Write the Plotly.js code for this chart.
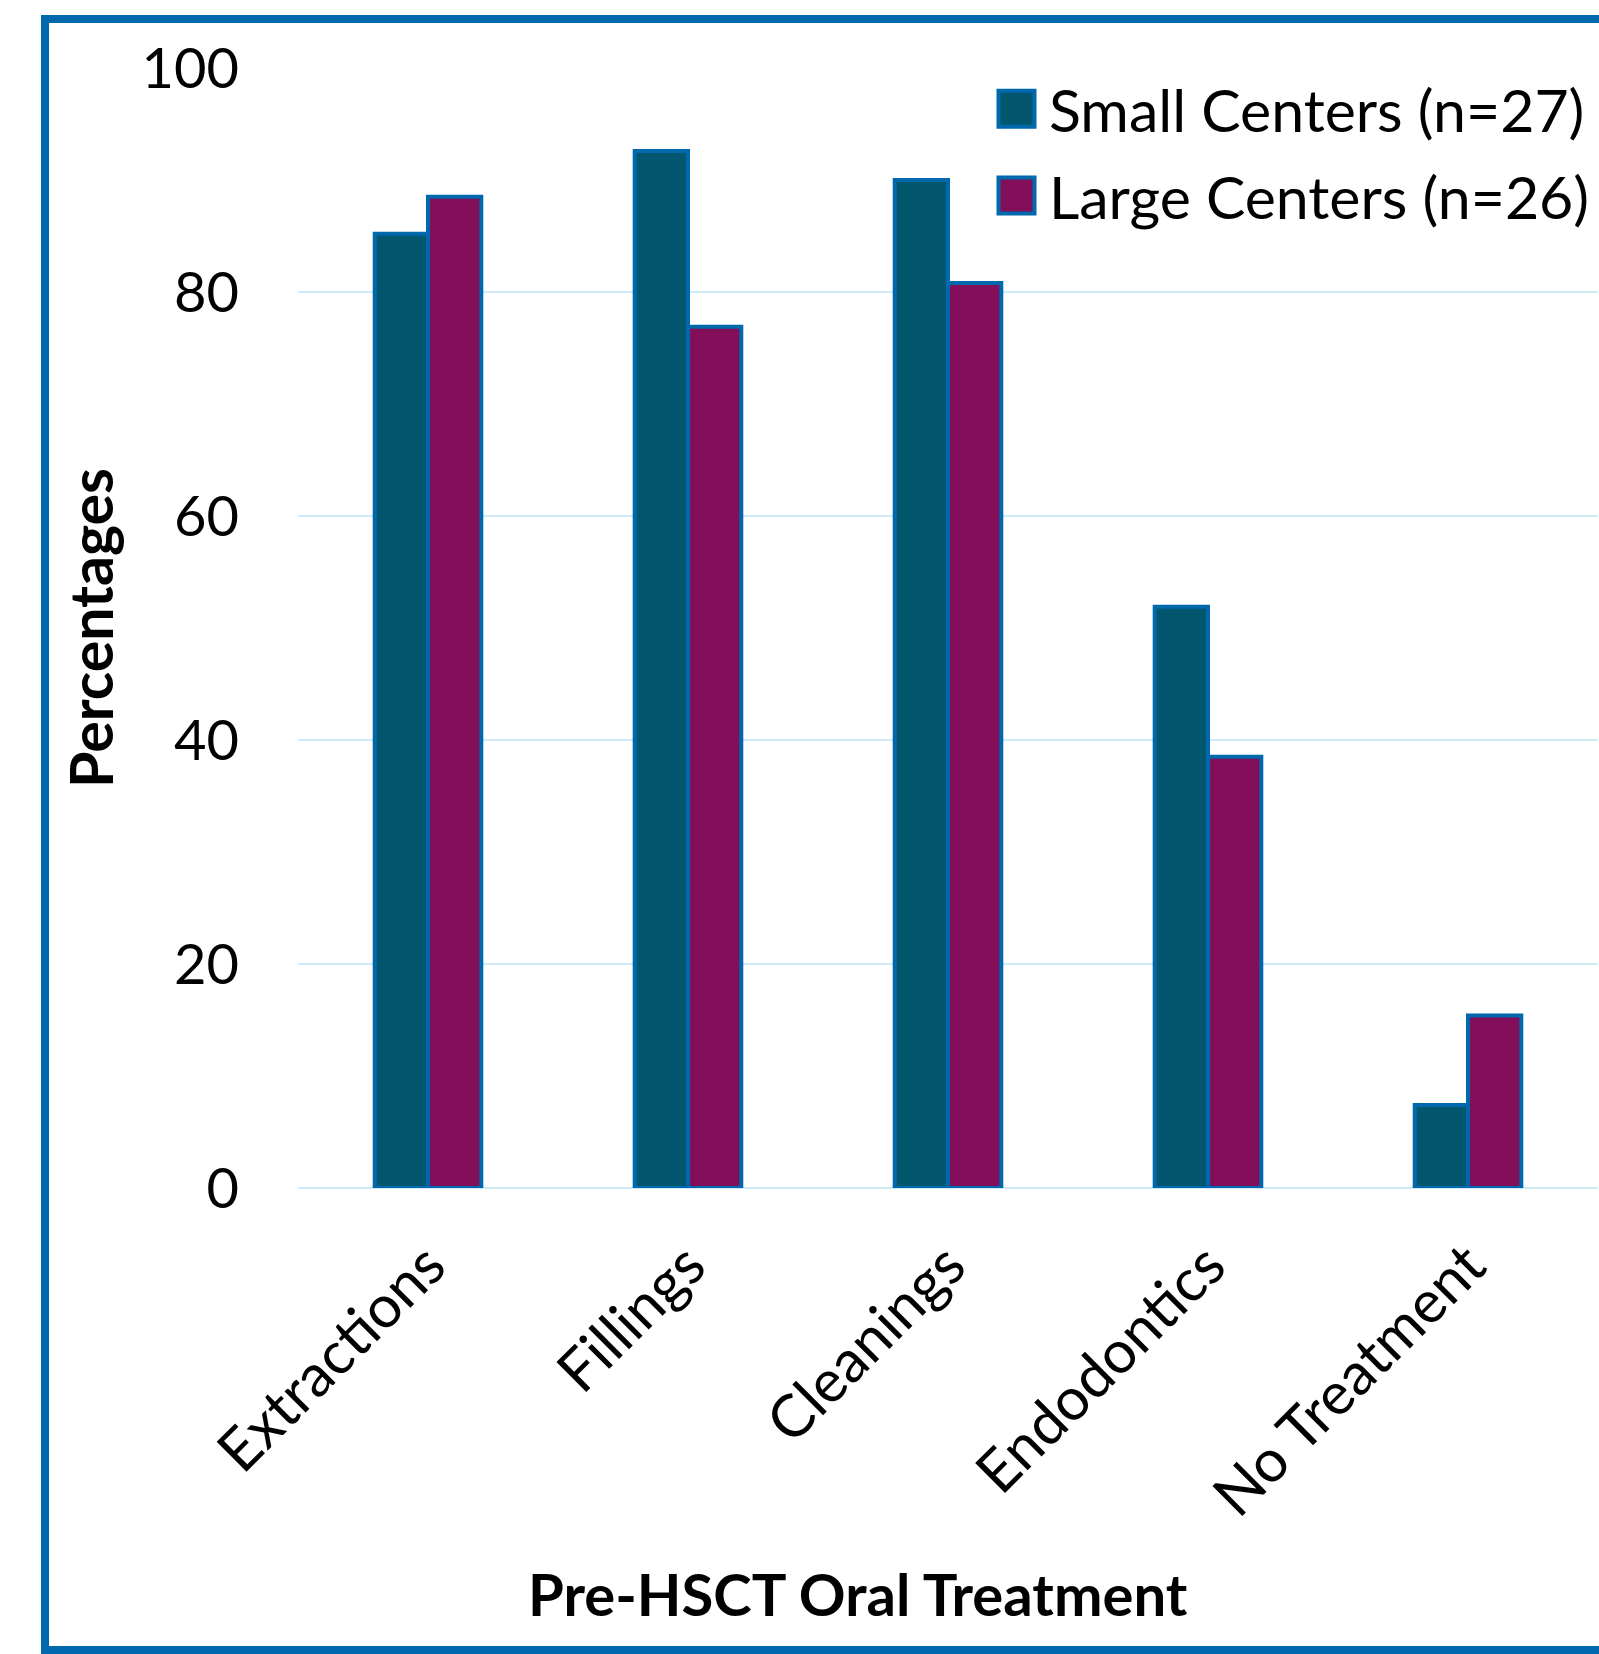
<!DOCTYPE html>
<html>
<head>
<meta charset="utf-8">
<script src="https://cdn.plot.ly/plotly-3.0.1.min.js"></script>
<style>
  html, body { margin: 0; padding: 0; background: #ffffff; }
  #chart { width: 1599px; height: 1654px; }
</style>
</head>
<body>
<div id="chart"></div>
<script>
// ---- data ----
const categories = ["Extractions", "Fillings", "Cleanings", "Endodontics", "No Treatment"];
const smallCenters = [85.2, 92.6, 90.0, 51.9, 7.4];
const largeCenters = [88.5, 76.9, 80.8, 38.5, 15.4];
const seriesNames = ["Small Centers (n=27)", "Large Centers (n=26)"];
const yTicks = [0, 20, 40, 60, 80, 100];
const xTitle = "Pre-HSCT Oral Treatment";
const yTitle = "Percentages";

// ---- style ----
const FONT = "Lato, 'Open Sans', sans-serif";
const OUTLINE = "#0068AD";
const W = 1599, H = 1654;
const M = {l: 298, r: 1, t: 68, b: 466};
const pw = W - M.l - M.r, ph = H - M.t - M.b;
const px = v => (v - M.l) / pw;
const py = v => (H - M.b - v) / ph;

const traces = [
  {
    type: "bar", name: seriesNames[0], x: categories, y: smallCenters,
    marker: {color: "#02576F", line: {color: OUTLINE, width: 4}},
    legendgroup: "a"
  },
  {
    type: "bar", name: seriesNames[1], x: categories, y: largeCenters,
    marker: {color: "#830F5A", line: {color: OUTLINE, width: 4}},
    legendgroup: "b"
  }
];

const layout = {
  width: W, height: H,
  margin: M,
  paper_bgcolor: "#ffffff",
  plot_bgcolor: "#ffffff",
  font: {family: FONT, color: "#000000"},
  barmode: "group",
  bargap: 0.59,
  bargroupgap: 0,
  showlegend: true,
  legend: {
    x: px(984), y: py(64), xanchor: "left", yanchor: "top",
    font: {size: 59, family: FONT, color: "#000"},
    bgcolor: "rgba(0,0,0,0)",
    traceorder: "grouped",
    tracegroupgap: 7,
    itemwidth: 55
  },
  xaxis: {
    type: "category",
    tickangle: -45,
    tickfont: {size: 59, family: FONT, color: "#000"},
    ticks: "",
    ticklabelstandoff: 30,
    showline: false,
    showgrid: false,
    zeroline: false,
    automargin: false
  },
  yaxis: {
    range: [0, 100],
    tickvals: yTicks,
    ticktext: yTicks.map(String),
    tickfont: {size: 56, family: FONT, color: "#000"},
    ticks: "",
    ticklabelstandoff: 58,
    showgrid: true,
    gridcolor: "#CFEBFA",
    gridwidth: 2,
    zeroline: true,
    zerolinecolor: "#CFEBFA",
    zerolinewidth: 2,
    showline: false,
    automargin: false,
    title: {text: "<b>" + yTitle + "</b>", font: {size: 59, family: FONT, color: "#000"}, standoff: 8}
  },
  annotations: [
    {
      text: "<b>" + xTitle + "</b>",
      xref: "paper", yref: "paper",
      x: px(858), y: py(1593),
      xanchor: "center", yanchor: "middle",
      showarrow: false,
      font: {size: 58, family: FONT, color: "#000"}
    }
  ],
  shapes: [
    {
      type: "rect", xref: "paper", yref: "paper",
      x0: px(45), x1: px(1640), y0: py(1650), y1: py(19),
      line: {color: OUTLINE, width: 8},
      fillcolor: "rgba(0,0,0,0)",
      layer: "above"
    }
  ]
};

Plotly.newPlot("chart", traces, layout, {displayModeBar: false, staticPlot: true}).then(function (gd) {
  gd.querySelectorAll(".legend .legendpoints path").forEach(function (p) {
    p.setAttribute("d", "M18,18H-18V-18H18Z");
    p.style.strokeWidth = "4px";
  });
});
</script>
</body>
</html>
